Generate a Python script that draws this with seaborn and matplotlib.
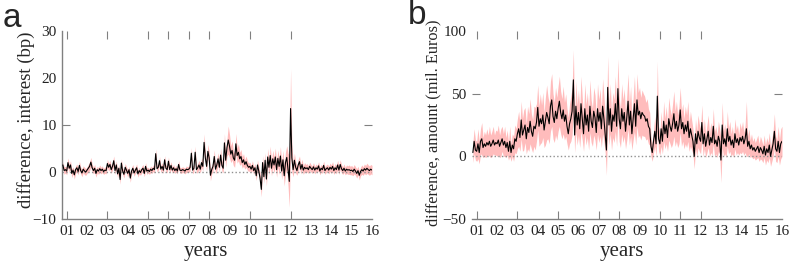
import numpy as np
import pandas as pd
import matplotlib
matplotlib.use("Agg")
import matplotlib.pyplot as plt
import seaborn as sns

# year labels and which years get a tick mark
year_labels = ["01", "02", "03", "04", "05", "06", "07", "08",
               "09", "10", "11", "12", "13", "14", "15", "16"]
ticks_a = [1, 3, 5, 6, 7, 8, 10, 12]
ticks_b = [1, 3, 5, 7, 8, 10, 11, 12]

# panel a: interest difference (bp), 16 samples per year from late 2000
interest = [
    1.5, 0.3, 0.5,
    0.2, 2.0, 0.8, 1.5, -0.3, 0.4, -0.6, 0.5, 0.9, 0.1, 1.4, 0.3, -0.2, 0.6, 0.2, 0.0,
    0.4, 0.8, 1.2, 2.1, 0.9, 0.3, 0.8, -0.3, 0.5, 0.2, 0.7, 0.3, 0.6, 0.1, 0.4, 0.3,
    1.8, 1.0, 1.6, 0.5, 1.2, 2.4, 0.3, 1.5, -0.4, 0.8, -1.6, 1.9, 0.2, -0.5, 1.0, 0.4,
    -0.3, 0.5, -1.3, 0.2, 0.8, -0.2, 0.4, 0.9, -0.4, 0.3, -0.1, 0.5, 0.8, -0.3, 1.2, 0.2,
    0.4, 0.1, 0.6, 0.3, 0.8, 0.5, 3.9, 0.7, 1.0, 2.4, 0.6, 1.2, 0.4, 2.6, 0.8, 0.5,
    2.3, 0.5, 1.4, 0.4, 0.9, 0.3, 0.7, 0.2, 1.6, 0.4, 0.3, 0.5, 0.4, 0.2, 0.6, 0.5,
    0.6, 1.0, 4.0, 0.4, 0.8, 4.2, 0.5, 0.9, 1.5, 0.6, 2.0, 1.2, 6.3, 3.0, 1.2, 4.4,
    3.0, -0.7, 0.5, 1.2, 3.3, 0.6, 1.5, 2.8, 1.0, 3.6, 1.4, 0.8, 6.2, 2.5, 5.2, 6.8,
    5.5, 3.8, 4.6, 3.0, 2.5, 6.0, 3.5, 4.2, 2.8, 3.3, 2.0, 2.6, 1.6, 2.2, 1.4, 1.0,
    1.2, 0.6, 1.4, 0.3, 0.9, -0.8, 1.5, 0.2, -1.3, -3.7, 2.0, -1.0, 2.5, -1.5, 3.2, 1.0,
    3.5, 0.8, 2.8, 1.5, 3.2, 0.5, 2.9, 1.2, 3.4, 0.2, 2.6, -0.8, 2.0, 3.1, 0.5, -2.0,
    13.5, 3.0, 0.5, 2.5, 1.0, 0.3, 1.5, 2.2, 0.6, 1.6, 0.4, 1.0, 0.7, 0.9, 0.5, 1.2,
    0.8, 0.5, 1.1, 0.4, 0.9, 0.6, 1.3, 0.2, 0.8, 0.5, 1.4, 0.3, 0.7, 0.9, 0.4, 1.0,
    0.6, 1.2, 0.3, 0.9, 0.5, 1.5, 0.4, 1.6, 0.7, 0.3, 0.8, 0.2, 0.6, 0.4, 0.5, 0.3,
    0.4, 0.1, 0.6, 0.2, -0.3, 0.3, -0.7, 0.1, 0.5, 0.2, 0.7, 0.4, 0.8, 0.5, 0.3, 0.6,
    0.4,
]
interest_err = [
    0.7, 0.8, 0.7,
    0.8, 1.0, 0.8, 0.9, 0.9, 0.7, 0.9, 0.8, 0.8, 0.7, 0.9, 0.7, 0.8, 0.7, 0.8, 0.7,
    0.7, 0.8, 0.9, 1.0, 0.8, 0.7, 0.8, 0.8, 0.7, 0.7, 0.8, 0.7, 0.7, 0.6, 0.7, 0.7,
    0.9, 0.8, 0.9, 0.8, 0.8, 1.0, 0.8, 0.9, 0.8, 0.8, 1.0, 0.9, 0.7, 0.8, 0.8, 0.7,
    0.8, 0.7, 0.9, 0.7, 0.8, 0.7, 0.7, 0.8, 0.7, 0.7, 0.6, 0.7, 0.8, 0.7, 0.8, 0.7,
    0.6, 0.6, 0.7, 0.6, 0.7, 0.7, 1.0, 0.7, 0.7, 0.9, 0.7, 0.8, 0.7, 0.9, 0.7, 0.7,
    0.9, 0.7, 0.8, 0.6, 0.7, 0.6, 0.7, 0.6, 0.8, 0.6, 0.6, 0.6, 0.6, 0.6, 0.7, 0.6,
    0.7, 0.8, 1.2, 0.8, 0.8, 1.3, 0.8, 0.9, 1.0, 0.8, 1.0, 1.0, 1.8, 1.3, 1.0, 1.5,
    1.3, 1.2, 0.9, 1.0, 1.4, 1.0, 1.2, 1.3, 1.0, 1.5, 1.2, 1.0, 2.0, 1.5, 1.8, 3.0,
    2.5, 1.8, 2.0, 1.6, 1.5, 2.2, 1.6, 1.8, 1.4, 1.5, 1.2, 1.3, 1.0, 1.2, 1.0, 0.9,
    0.9, 0.8, 1.0, 0.8, 0.9, 1.0, 1.1, 0.9, 1.2, 1.6, 1.5, 1.4, 1.6, 1.5, 1.8, 1.6,
    2.0, 1.6, 1.8, 1.7, 1.9, 1.6, 1.8, 1.7, 2.0, 1.8, 2.0, 2.2, 2.3, 2.5, 3.5, 5.5,
    8.5, 3.0, 1.5, 1.5, 1.2, 1.0, 1.2, 1.2, 1.0, 1.1, 0.9, 1.0, 0.9, 0.9, 0.8, 0.9,
    0.8, 0.8, 0.9, 0.8, 0.8, 0.8, 0.9, 0.8, 0.8, 0.8, 0.9, 0.8, 0.8, 0.8, 0.8, 0.9,
    0.9, 1.0, 0.8, 0.9, 0.9, 1.0, 0.9, 1.0, 0.9, 0.8, 0.9, 0.8, 0.9, 0.9, 1.0, 0.9,
    1.0, 0.9, 1.0, 0.9, 1.0, 0.9, 1.0, 0.9, 1.0, 0.9, 1.0, 1.0, 1.1, 1.0, 1.0, 1.0,
    1.0,
]

# panel b: amount difference (mil. Euros)
amount = [
    3, 12, 5,
    4, 10, 3, 12, 14, 7, 10, 8, 11, 9, 12, 8, 10, 13, 9, 11,
    10, 13, 8, 11, 14, 9, 12, 7, 11, 4, 12, 3, 9, 6, 14, 12,
    18, 22, 15, 29, 17, 21, 25, 14, 23, 19, 28, 20, 16, 24, 22, 27,
    39, 24, 30, 26, 33, 21, 28, 35, 31, 26, 40, 45, 32, 27, 36, 30,
    38, 44, 35, 30, 37, 28, 33, 24, 18, 26, 30, 36, 61, 17, 40, 25,
    35, 22, 42, 30, 18, 38, 25, 33, 20, 40, 28, 23, 36, 31, 19, 38,
    28, 35, 22, 40, 30, 18, 5, 55, 25, 38, 20, 33, 28, 42, 24, 54,
    30, 22, 38, 28, 35, 20, 31, 44, 25, 36, 18, 30, 42, 24, 45, 33,
    36, 30, 35, 33, 32, 28, 30, 24, 22, 8, 3, 12, 20, 10, 48, 14,
    10, 22, 12, 28, 18, 25, 15, 30, 24, 20, 26, 34, 22, 28, 20, 25,
    37, 22, 27, 18, 25, 20, 28, 15, 22, 17, 12, 0, 18, 10, 20, 15,
    12, 27, 10, 18, 8, 14, 20, 9, 15, 11, 24, 10, 13, 8, 16, 12,
    -3, 25, 10, 14, 8, 22, 12, 16, 9, 13, 7, 18, 11, 14, 9, 15,
    12, 16, 10, 14, 22, 8, 12, 6, 9, 5, 7, 4, 6, 8, 3, 7,
    5, 2, 8, 1, 6, 3, 9, 0, 5, 10, 20, 6, 4, 12, 3, 10,
    12,
]
amount_err = [
    8, 10, 8,
    8, 12, 9, 10, 13, 8, 10, 9, 11, 8, 12, 9, 10, 11, 8, 10,
    10, 12, 9, 11, 10, 9, 12, 8, 10, 7, 12, 7, 9, 10, 11, 10,
    12, 14, 11, 15, 13, 16, 14, 12, 17, 15, 18, 14, 13, 16, 17, 15,
    18, 16, 20, 15, 18, 14, 19, 22, 17, 16, 20, 21, 18, 16, 19, 17,
    18, 20, 17, 16, 19, 15, 17, 14, 13, 16, 18, 19, 24, 14, 20, 16,
    18, 15, 22, 17, 14, 20, 16, 18, 15, 21, 17, 15, 19, 18, 14, 20,
    17, 19, 15, 22, 18, 15, 20, 25, 16, 20, 15, 18, 17, 22, 16, 24,
    18, 15, 20, 17, 19, 14, 18, 22, 16, 20, 13, 17, 22, 15, 21, 18,
    19, 17, 18, 17, 16, 15, 16, 14, 13, 8, 7, 9, 12, 10, 28, 10,
    9, 14, 10, 16, 12, 15, 11, 17, 14, 13, 16, 18, 14, 16, 13, 15,
    18, 14, 15, 12, 15, 13, 16, 11, 14, 12, 10, 10, 12, 10, 13, 11,
    10, 14, 10, 12, 9, 11, 13, 9, 12, 10, 14, 10, 11, 9, 12, 10,
    18, 18, 10, 12, 9, 14, 10, 12, 9, 11, 8, 12, 10, 11, 8, 12,
    10, 12, 9, 11, 22, 8, 10, 7, 9, 7, 8, 7, 8, 9, 7, 9,
    8, 7, 9, 8, 9, 8, 10, 8, 9, 10, 14, 10, 9, 12, 10, 12,
    12,
]

# time axis: years since 2000, 16 samples per year
t = np.arange(13, 13 + len(interest)) / 16.0

sns.set_style("white")
plt.rcParams["font.family"] = ["Liberation Serif", "DejaVu Serif"]

fig = plt.figure(figsize=(7.89, 2.65), dpi=100)
ax_a = fig.add_axes([62 / 789, 46 / 265, 310 / 789, 188 / 265])
ax_b = fig.add_axes([472 / 789, 46 / 265, 310 / 789, 188 / 265])

grey = "#808080"


def draw_panel(ax, y, err, ylim, yticks, ymark, xmarks, ylabel, show_left,
               ylab_size, ylab_pos, xlab_pos):
    df = pd.DataFrame({"t": t, "y": y, "e": err})
    ax.fill_between(df["t"], df["y"] - df["e"], df["y"] + df["e"],
                    color="#ffbcbc", lw=0, zorder=1)
    ax.axhline(0, color="#909090", ls=":", lw=1.0, zorder=2)
    sns.lineplot(data=df, x="t", y="y", ax=ax, color="black", lw=0.8, zorder=3)

    ax.set_xlim(0.77, 16.0)
    ax.set_ylim(*ylim)

    # labels at every year, tick marks only at some
    ax.set_xticks(range(1, 17))
    ax.set_xticklabels(year_labels)
    ax.set_xticks(xmarks, minor=True)
    ax.xaxis.remove_overlapping_locs = False
    ax.set_yticks(yticks)
    ax.set_yticks([ymark], minor=True)
    ax.yaxis.remove_overlapping_locs = False

    ax.tick_params(axis="both", which="major", length=0, labelsize=11,
                   pad=4, labelcolor="#222222")
    ax.tick_params(axis="x", which="minor", direction="in", length=6,
                   width=0.8, color=grey, top=True, bottom=True)
    ax.tick_params(axis="y", which="minor", direction="in", length=6,
                   width=0.8, color=grey, left=True, right=True)

    for side in ["top", "right"]:
        ax.spines[side].set_visible(False)
    ax.spines["left"].set_visible(show_left)
    for side in ["left", "bottom"]:
        ax.spines[side].set_color(grey)
        ax.spines[side].set_linewidth(1.0)

    ax.set_xlabel("years", fontsize=15)
    ax.set_ylabel(ylabel, fontsize=ylab_size)
    ax.yaxis.set_label_coords(*ylab_pos)
    ax.xaxis.set_label_coords(*xlab_pos)


draw_panel(ax_a, interest, interest_err, (-10, 30), [-10, 0, 10, 20, 30], 10,
           ticks_a, "difference, interest (bp)", True, 13.5,
           (-0.087, 0.527), (0.465, -0.123))
draw_panel(ax_b, amount, amount_err, (-50, 100), [-50, 0, 50, 100], 50,
           ticks_b, "difference, amount (mil. Euros)", False, 11.8,
           (-0.098, 0.51), (0.484, -0.123))

fig.text(3 / 789, 1 - 27 / 265, "a", fontsize=24, family="Liberation Sans",
         va="baseline", ha="left")
fig.text(408 / 789, 1 - 24 / 265, "b", fontsize=24, family="Liberation Sans",
         va="baseline", ha="left")

fig.savefig("out.png", dpi=100)
